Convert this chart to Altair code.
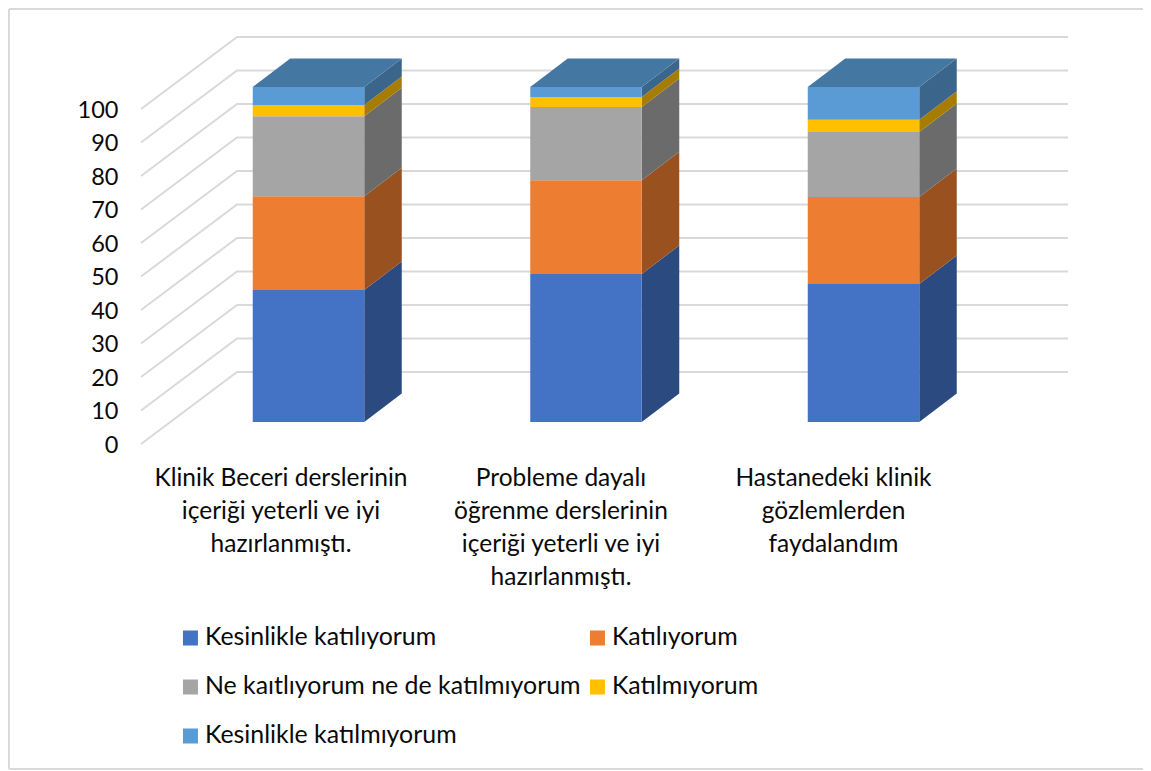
import altair as alt
import pandas as pd

CATEGORIES = [
    "Klinik Beceri derslerinin\niçeriği yeterli ve iyi\nhazırlanmıştı.",
    "Probleme dayalı\nöğrenme derslerinin\niçeriği yeterli ve iyi\nhazırlanmıştı.",
    "Hastanedeki klinik\ngözlemlerden\nfaydalandım",
]
SERIES = ["Kesinlikle katılıyorum", "Katılıyorum", "Ne kaıtlıyorum ne de katılmıyorum",
          "Katılmıyorum", "Kesinlikle katılmıyorum"]
V_STRONG_AGREE = [39.4, 44.2, 41.2]
V_AGREE = [28.0, 28.0, 26.0]
V_NEUTRAL = [23.9, 21.8, 19.4]
V_DISAGREE = [3.3, 3.0, 3.6]
V_STRONG_DISAGREE = [5.4, 3.0, 9.8]
VALUES = [V_STRONG_AGREE, V_AGREE, V_NEUTRAL, V_DISAGREE, V_STRONG_DISAGREE]
TICKS = list(range(0, 101, 10))

FRONT = ["#4472C4", "#ED7D31", "#A5A5A5", "#FFC000", "#5B9BD5"]
SIDE = ["#2B4A80", "#9A5120", "#6B6B6B", "#A67D00", "#3B658A"]
TOP = "#4577A3"
GRID = "#D9D9D9"
INK = "#0A0A0A"
FONT = "Lato"

# layout (pixels of the page)
PX0, PY0, W, H = 9, 9, 1134, 760
STEP, C0 = 277.5, 308.5     # px per category, px of first bar centre
UNIT, Y_ZERO = 3.35, 444.0  # px per value unit, px of value 0 on the front edge
def xc(px): return (px - C0) / STEP
def yv(px): return (Y_ZERO - px) / UNIT
X_DOM = [xc(PX0), xc(PX0 + W)]
Y_DOM = [yv(PY0 + H), yv(PY0)]
HALF = 55.75 / STEP
DX = 37.5 / STEP
DY = 28.5 / UNIT
BASE = 22 / UNIT
WALL_FRONT, WALL_BACK, WALL_RIGHT = xc(141), xc(237), xc(1068)
WALL_RISE = 72 / UNIT
LABEL_X = [xc(281), xc(561), xc(833.5)]

x_scale = alt.Scale(domain=X_DOM, nice=False, zero=False)
y_scale = alt.Scale(domain=Y_DOM, nice=False, zero=False)

front, side, top, grid = [], [], [], []
for c in range(len(CATEGORIES)):
    low = BASE
    for s, vals in enumerate(VALUES):
        high = low + vals[c]
        front.append(dict(series=SERIES[s], x=c - HALF, x2=c + HALF, y=low, y2=high))
        side.append(dict(k=f"{c}-{s}", col=SIDE[s], x=c + HALF, y=low, y2=high))
        side.append(dict(k=f"{c}-{s}", col=SIDE[s], x=c + HALF + DX, y=low + DY, y2=high + DY))
        low = high
    top.append(dict(k=c, x=c - HALF, x2=c + HALF, y=low))
    top.append(dict(k=c, x=c - HALF + DX, x2=c + HALF + DX, y=low + DY))
for t in TICKS:
    grid.append(dict(t=t, o=0, x=WALL_FRONT, y=t))
    grid.append(dict(t=t, o=1, x=WALL_BACK, y=t + WALL_RISE))
    grid.append(dict(t=t, o=2, x=WALL_RIGHT, y=t + WALL_RISE))

frame = [
    dict(k="l", o=0, x=X_DOM[0], y=Y_DOM[0]), dict(k="l", o=1, x=X_DOM[0], y=Y_DOM[1]),
    dict(k="t", o=0, x=X_DOM[0], y=Y_DOM[1]), dict(k="t", o=1, x=X_DOM[1], y=Y_DOM[1]),
    dict(k="b", o=0, x=X_DOM[0], y=Y_DOM[0]), dict(k="b", o=1, x=X_DOM[1], y=Y_DOM[0]),
]

X = alt.X("x:Q", scale=x_scale, axis=None)
frame_layer = alt.Chart(pd.DataFrame(frame)).mark_line(color=GRID, strokeWidth=2, clip=False).encode(
    x=X, y=alt.Y("y:Q", scale=y_scale), detail="k:N", order="o:Q")
grid_layer = alt.Chart(pd.DataFrame(grid)).mark_line(color=GRID, strokeWidth=2).encode(
    x=X,
    y=alt.Y("y:Q", scale=y_scale, title=None,
            axis=alt.Axis(values=TICKS, grid=False, ticks=False, domain=False, offset=-109,
                          labelPadding=0, labelOffset=1, labelFont=FONT, labelFontSize=23.5,
                          labelColor=INK)),
    detail="t:N", order="o:Q")
side_layer = alt.Chart(pd.DataFrame(side)).mark_area(orient="vertical").encode(
    x=X, y=alt.Y("y:Q", scale=y_scale), y2="y2:Q", detail="k:N",
    fill=alt.Fill("col:N", scale=None))
top_layer = alt.Chart(pd.DataFrame(top)).mark_area(orient="horizontal", color=TOP).encode(
    y=alt.Y("y:Q", scale=y_scale), x=X, x2="x2:Q", detail="k:N")
bar_layer = alt.Chart(pd.DataFrame(front)).mark_bar().encode(
    x=X, x2="x2:Q", y=alt.Y("y:Q", scale=y_scale), y2="y2:Q",
    fill=alt.Fill("series:N", scale=alt.Scale(domain=SERIES, range=FRONT),
                  legend=alt.Legend(title=None, orient="none", legendX=169, legendY=617, columns=2,
                                    direction="horizontal",
                                    symbolType="square", symbolSize=225, symbolStrokeWidth=0,
                                    labelFont=FONT, labelFontSize=24.9, labelColor=INK, labelLimit=500,
                                    labelOffset=2, columnPadding=4, rowPadding=24, clipHeight=24)))
label_layer = alt.Chart(pd.DataFrame(dict(x=LABEL_X, y=[yv(467)] * 3, label=CATEGORIES))).mark_text(
    lineBreak="\n", align="center", baseline="top", font=FONT, fontSize=24.5, lineHeight=33, color=INK
).encode(x=X, y=alt.Y("y:Q", scale=y_scale), text="label:N")

chart = alt.layer(frame_layer, grid_layer, side_layer, top_layer, bar_layer, label_layer).resolve_scale(
    fill="independent"
).properties(
    width=W, height=H, background="white",
    padding={"left": 1, "top": 1, "right": 0, "bottom": 1},
    autosize=alt.AutoSizeParams(type="none")
).configure_view(stroke=None)

chart.save("out.html", embed_options={"renderer": "svg", "actions": False})
